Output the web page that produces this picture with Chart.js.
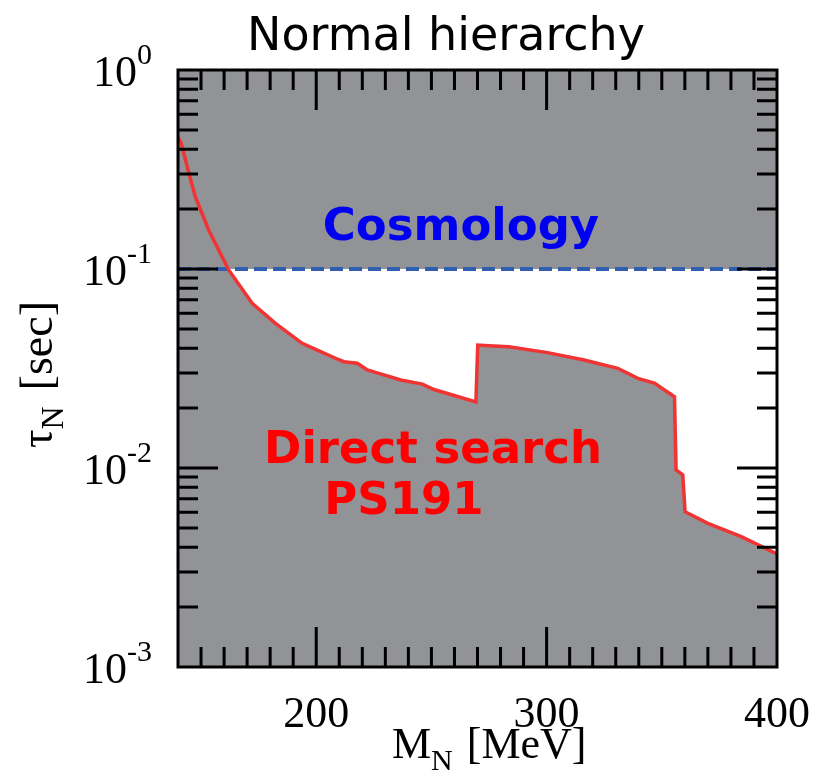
<!DOCTYPE html>
<html>
<head>
<meta charset="utf-8">
<script src="https://cdn.jsdelivr.net/npm/chart.js@4.4.1/dist/chart.umd.min.js"></script>
<style>
  body { margin: 0; background: #fff; }
  #wrap { width: 820px; height: 781px; }
</style>
</head>
<body>
<div id="wrap"><canvas id="myChart" width="820" height="781"></canvas></div>
<script>
// Dữ liệu: khối lượng M_N (MeV) và thời gian sống tau_N (s)
const massValues = [140, 141.4, 144.5, 147.5, 153.3, 162, 172.2, 182.3, 193.9, 201.9, 208.4, 212, 217.8, 222.2, 227.2, 236.7, 246.1, 251.1, 269.3, 270.1, 275, 283.7, 300.4, 316.3, 330.9, 339.6, 346.8, 355.5, 356.2, 359.1, 360.1, 370, 384.5, 400];
const lifetimeValues = [0.46, 0.428, 0.31, 0.231, 0.157, 0.0989, 0.0673, 0.0533, 0.0423, 0.0384, 0.0356, 0.0342, 0.0336, 0.0311, 0.0299, 0.0277, 0.0264, 0.0248, 0.0215, 0.0415, 0.0412, 0.0407, 0.038, 0.0349, 0.0317, 0.0282, 0.0267, 0.0228, 0.00977, 0.00923, 0.00603, 0.00527, 0.00452, 0.0037];

// Giới hạn vũ trụ học
const cosmologyMass = [140, 400];
const cosmologyLimit = [0.1, 0.1];

// Nhãn trục
const xTickLabels = [200, 300, 400];
const yTickExponents = [0, -1, -2, -3];
const yDecades = [-3, -2, -1];

const GRAY = '#929397';

function buildYTicks() {
    const ticks = [];
    yDecades.forEach(d => {
        for (let m = 1; m <= 9; m++) {
            ticks.push({ value: m * Math.pow(10, d), major: m === 1 });
        }
    });
    ticks.push({ value: 1, major: true });
    return ticks;
}

function buildXTicks() {
    const ticks = [];
    for (let v = 140; v <= 400; v += 10) {
        ticks.push({ value: v, major: v % 100 === 0 });
    }
    return ticks;
}

// Plugin vẽ nền xám, khung, vạch chia và chữ
const framePlugin = {
    id: 'frame',
    beforeDraw(chart) {
        const { ctx, chartArea: a } = chart;
        ctx.save();
        ctx.fillStyle = GRAY;
        ctx.fillRect(a.left, a.top, a.right - a.left, a.bottom - a.top);
        ctx.restore();
    },
    afterDraw(chart) {
        const { ctx, chartArea: a } = chart;
        const xs = chart.scales.x;
        const ys = chart.scales.y;
        ctx.save();
        ctx.strokeStyle = '#000';
        ctx.lineWidth = 3;

        // Vạch chia trục x (trên và dưới)
        xs.ticks.forEach(t => {
            const px = xs.getPixelForValue(t.value);
            if (px <= a.left + 1 || px >= a.right - 1) return;
            const len = t.major ? 40 : 20;
            ctx.beginPath();
            ctx.moveTo(px, a.bottom); ctx.lineTo(px, a.bottom - len);
            ctx.moveTo(px, a.top); ctx.lineTo(px, a.top + len);
            ctx.stroke();
        });
        // Vạch chia trục y (trái và phải)
        ys.ticks.forEach(t => {
            const py = ys.getPixelForValue(t.value);
            if (py <= a.top + 1 || py >= a.bottom - 1) return;
            const len = t.major ? 40 : 20;
            ctx.beginPath();
            ctx.moveTo(a.left, py); ctx.lineTo(a.left + len, py);
            ctx.moveTo(a.right, py); ctx.lineTo(a.right - len, py);
            ctx.stroke();
        });
        ctx.strokeRect(a.left, a.top, a.right - a.left, a.bottom - a.top);

        // Nhãn trục x
        ctx.fillStyle = '#000';
        ctx.font = '44px "Liberation Serif"';
        ctx.textAlign = 'center';
        ctx.textBaseline = 'alphabetic';
        xTickLabels.forEach(v => {
            ctx.fillText(String(v), xs.getPixelForValue(v), 727);
        });

        // Nhãn trục y dạng 10^n
        yTickExponents.forEach(e => {
            const py = ys.getPixelForValue(Math.pow(10, e));
            const sup = String(e);
            ctx.font = '30px "Liberation Serif"';
            const supW = ctx.measureText(sup).width;
            ctx.textAlign = 'right';
            ctx.fillText(sup, 152, py - 6);
            ctx.font = '44px "Liberation Serif"';
            ctx.fillText('10', 152 - supW, py + 16);
        });

        // Tiêu đề trục x: M_N [MeV]
        ctx.textAlign = 'left';
        ctx.font = '44px "Liberation Serif"';
        let x0 = 392;
        ctx.fillText('M', x0, 758);
        x0 += ctx.measureText('M').width;
        ctx.font = '30px "Liberation Serif"';
        ctx.fillText('N', x0, 770);
        x0 += ctx.measureText('N').width + 14;
        ctx.font = '44px "Liberation Serif"';
        ctx.fillText('[MeV]', x0, 758);

        // Tiêu đề trục y: tau_N [sec]
        ctx.save();
        ctx.translate(52, 448);
        ctx.rotate(-Math.PI / 2);
        ctx.font = '46px "Liberation Serif"';
        let y0 = 0;
        ctx.fillText('\u03c4', y0, 0);
        y0 += ctx.measureText('\u03c4').width;
        ctx.font = '32px "Liberation Serif"';
        ctx.fillText('N', y0, 11);
        y0 += ctx.measureText('N').width + 16;
        ctx.font = '46px "Liberation Serif"';
        ctx.fillText('[sec]', y0, 0);
        ctx.restore();

        // Tiêu đề biểu đồ
        ctx.textAlign = 'center';
        ctx.font = '46px "DejaVu Sans"';
        ctx.fillText('Normal hierarchy', 446, 50);

        // Chú thích vùng
        ctx.font = 'bold 45px "DejaVu Sans"';
        ctx.fillStyle = '#0000f0';
        ctx.fillText('Cosmology', 461, 240);
        ctx.fillStyle = '#ff0000';
        ctx.fillText('Direct search', 433, 463);
        ctx.fillText('PS191', 404, 514);
        ctx.restore();
    }
};

const ctx = document.getElementById('myChart').getContext('2d');
new Chart(ctx, {
    type: 'line',
    data: {
        datasets: [
            {
                label: 'PS191',
                data: massValues.map((m, i) => ({ x: m, y: lifetimeValues[i] })),
                borderColor: '#f03333',
                borderWidth: 3.5,
                pointRadius: 0,
                tension: 0,
                fill: { target: { value: 0.1 }, above: 'rgba(0,0,0,0)', below: '#ffffff' },
                order: 0
            },
            {
                label: 'Cosmology',
                data: cosmologyMass.map((m, i) => ({ x: m, y: cosmologyLimit[i] })),
                borderColor: '#2f5fae',
                borderWidth: 4,
                borderDash: [13, 6],
                pointRadius: 0,
                fill: false,
                order: 1
            }
        ]
    },
    options: {
        responsive: false,
        animation: false,
        layout: { padding: { top: 70, right: 43, left: 0, bottom: 0 } },
        plugins: {
            legend: { display: false },
            title: { display: false },
            tooltip: { enabled: false },
            filler: { drawTime: 'beforeDatasetsDraw' }
        },
        scales: {
            x: {
                type: 'linear',
                min: 140,
                max: 400,
                grid: { display: false },
                border: { display: false },
                ticks: { display: false },
                afterBuildTicks: scale => { scale.ticks = buildXTicks(); },
                afterFit: scale => { scale.height = 114; }
            },
            y: {
                type: 'logarithmic',
                min: 0.001,
                max: 1,
                grid: { display: false },
                border: { display: false },
                ticks: { display: false },
                afterBuildTicks: scale => { scale.ticks = buildYTicks(); },
                afterFit: scale => { scale.width = 178; }
            }
        }
    },
    plugins: [framePlugin]
});
</script>
</body>
</html>
